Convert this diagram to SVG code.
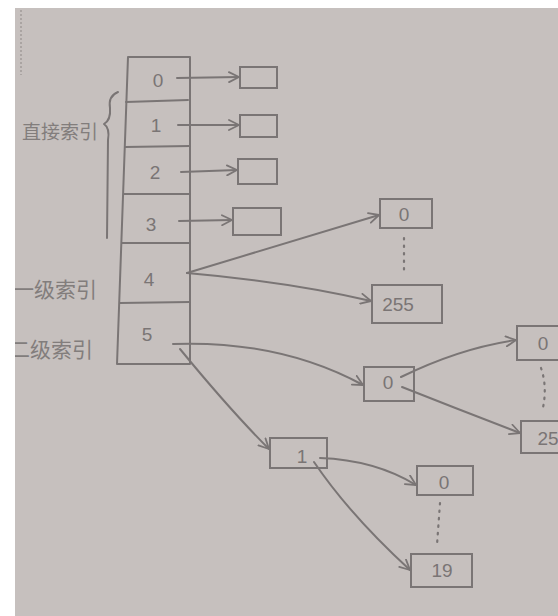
<svg xmlns="http://www.w3.org/2000/svg" width="558" height="616" viewBox="0 0 558 616">
  <defs>
    <marker id="arr" viewBox="0 0 12 12" refX="11" refY="6" markerWidth="12" markerHeight="12" markerUnits="userSpaceOnUse" orient="auto">
      <path d="M1,1 L11,6 L1,11" fill="none" stroke="#7a7575" stroke-width="1.8" stroke-linecap="round" stroke-linejoin="round"/>
    </marker>
    <clipPath id="paper"><rect x="15" y="8" width="543" height="608"/></clipPath>
  </defs>
  <style>
    .ln { fill: none; stroke: #7a7575; stroke-width: 2; stroke-linecap: round; stroke-linejoin: round; }
    .box { fill: none; stroke: #7a7575; stroke-width: 2; }
    .num { font-family: "Liberation Sans", Arial, sans-serif; font-size: 19px; fill: #7a7575; text-anchor: middle; dominant-baseline: central; }
    .lbl { font-family: "Noto Sans CJK SC", "Noto Sans", sans-serif; font-size: 21px; fill: #827d7c; dominant-baseline: central; }
    .dots { fill: none; stroke: #7a7575; stroke-width: 2.2; stroke-dasharray: 1.5 6; stroke-linecap: round; }
  </style>
  <rect x="0" y="0" width="558" height="616" fill="#ffffff"/>
  <rect x="15" y="8" width="543" height="608" fill="#c6c0be"/>
  <line x1="21" y1="10" x2="21" y2="75" stroke="#aaa4a2" stroke-width="2" stroke-dasharray="2 2"/>

  <g id="labels" clip-path="url(#paper)">
    <text class="lbl" x="22" y="130" style="font-size:19px">直接索引</text>
    <text class="lbl" x="13" y="288">一级索引</text>
    <text class="lbl" x="9" y="348">二级索引</text>
    <path class="ln" d="M118,92 Q108,96 110,108 Q111,120 104,124 Q110,128 108,140 L107,238"/>
  </g>

  <g id="index-table">
    <path class="ln" d="M128,57 L190,57 L190,364 L117,364 L128,57"/>
    <line class="ln" x1="126" y1="102" x2="188" y2="100"/>
    <line class="ln" x1="125" y1="147" x2="190" y2="146"/>
    <line class="ln" x1="124" y1="194" x2="190" y2="194"/>
    <line class="ln" x1="122" y1="243" x2="190" y2="243"/>
    <line class="ln" x1="120" y1="303" x2="190" y2="302"/>
    <text class="num" x="158" y="80">0</text>
    <text class="num" x="156" y="125">1</text>
    <text class="num" x="155" y="172">2</text>
    <text class="num" x="151" y="224">3</text>
    <text class="num" x="149" y="279">4</text>
    <text class="num" x="147" y="334">5</text>
  </g>

  <g id="direct-blocks">
    <rect class="box" x="240" y="67" width="37" height="21"/>
    <rect class="box" x="240" y="115" width="37" height="22"/>
    <rect class="box" x="238" y="159" width="39" height="25"/>
    <rect class="box" x="233" y="208" width="48" height="27"/>
  </g>

  <g id="level1">
    <rect class="box" x="380" y="199" width="52" height="29"/>
    <text class="num" x="404" y="214">0</text>
    <line class="dots" x1="404" y1="238" x2="404" y2="272"/>
    <rect class="box" x="372" y="285" width="70" height="38"/>
    <text class="num" x="398" y="304">255</text>
  </g>

  <g id="level2-first">
    <rect class="box" x="364" y="367" width="50" height="34"/>
    <text class="num" x="388" y="382">0</text>
    <rect class="box" x="517" y="326" width="45" height="34"/>
    <text class="num" x="543" y="343">0</text>
    <path class="dots" d="M541,368 Q548,388 542,412"/>
    <rect class="box" x="521" y="421" width="45" height="32"/>
    <text class="num" x="548" y="438">25</text>
  </g>

  <g id="level2-second">
    <rect class="box" x="270" y="438" width="57" height="30"/>
    <text class="num" x="302" y="456">1</text>
    <rect class="box" x="417" y="466" width="56" height="29"/>
    <text class="num" x="444" y="482">0</text>
    <line class="dots" x1="440" y1="503" x2="437" y2="545"/>
    <rect class="box" x="411" y="554" width="61" height="33"/>
    <text class="num" x="442" y="570">19</text>
  </g>

  <g id="connectors">
    <line class="ln" x1="177" y1="78" x2="239" y2="77" marker-end="url(#arr)"/>
    <line class="ln" x1="178" y1="125" x2="239" y2="125" marker-end="url(#arr)"/>
    <line class="ln" x1="181" y1="172" x2="237" y2="170" marker-end="url(#arr)"/>
    <line class="ln" x1="179" y1="221" x2="232" y2="220" marker-end="url(#arr)"/>
    <path class="ln" d="M187,273 L379,215" marker-end="url(#arr)"/>
    <path class="ln" d="M187,273 Q290,282 371,301" marker-end="url(#arr)"/>
    <path class="ln" d="M173,344 Q280,340 363,385" marker-end="url(#arr)"/>
    <path class="ln" d="M180,349 Q230,410 269,449" marker-end="url(#arr)"/>
    <path class="ln" d="M401,377 Q460,348 516,340" marker-end="url(#arr)"/>
    <path class="ln" d="M402,387 Q460,410 520,433" marker-end="url(#arr)"/>
    <path class="ln" d="M320,458 Q375,460 416,485" marker-end="url(#arr)"/>
    <path class="ln" d="M314,462 Q350,515 410,570" marker-end="url(#arr)"/>
  </g>
</svg>
